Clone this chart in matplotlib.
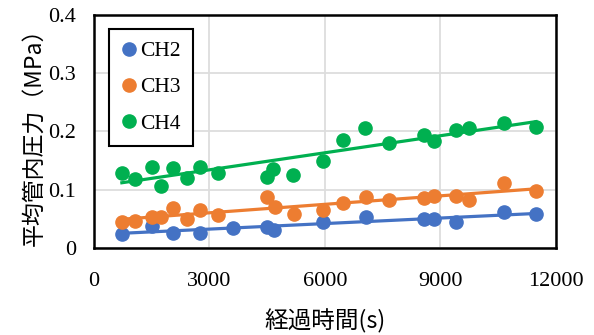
import numpy as np
import matplotlib.pyplot as plt

plt.rcParams['font.family'] = ['Liberation Serif', 'Noto Sans CJK JP']

# 経過時間(s) と 平均管内圧力(MPa)
t_ch2 = [727, 1506, 2052, 2753, 3610, 4493, 4675, 5947, 7064, 8570, 8830, 9401, 10648, 11479]
p_ch2 = [0.024, 0.038, 0.026, 0.026, 0.034, 0.036, 0.031, 0.045, 0.053, 0.050, 0.050, 0.045, 0.062, 0.058]

t_ch3 = [727, 1065, 1506, 1740, 2052, 2415, 2753, 3220, 4493, 4701, 5194, 5947, 6467, 7064,
         7661, 8570, 8830, 9401, 9739, 10648, 11479]
p_ch3 = [0.045, 0.046, 0.053, 0.053, 0.069, 0.050, 0.065, 0.057, 0.088, 0.070, 0.058, 0.065,
         0.077, 0.088, 0.082, 0.086, 0.089, 0.089, 0.082, 0.112, 0.098]

t_ch4 = [727, 1065, 1506, 1740, 2052, 2415, 2753, 3220, 4493, 4649, 5168, 5947, 6467, 7038,
         7661, 8570, 8830, 9401, 9739, 10648, 11479]
p_ch4 = [0.129, 0.118, 0.139, 0.106, 0.137, 0.120, 0.139, 0.129, 0.122, 0.136, 0.125, 0.149,
         0.185, 0.206, 0.180, 0.194, 0.184, 0.203, 0.206, 0.215, 0.208]

series = [("CH2", t_ch2, p_ch2, "#4472C4"),
          ("CH3", t_ch3, p_ch3, "#ED7D31"),
          ("CH4", t_ch4, p_ch4, "#00B050")]

xticks = [0, 3000, 6000, 9000, 12000]
yticks = [0, 0.1, 0.2, 0.3, 0.4]
ytick_labels = ["0", "0.1", "0.2", "0.3", "0.4"]

fig = plt.figure(figsize=(5.94, 3.35), dpi=100)
ax = fig.add_axes([0.158, 0.26, 0.778, 0.695])

for name, t, p, c in series:
    t = np.array(t)
    p = np.array(p)
    # 線形近似
    a, b = np.polyfit(t, p, 1)
    xs = np.array([t.min(), t.max()])
    ax.plot(xs, a*xs+b, '-', color=c, lw=2.3, zorder=2)
    ax.plot(t, p, 'o', color=c, ms=9.5, label=name, zorder=3)

ax.set_xlim(0, 12000)
ax.set_ylim(0, 0.4)
ax.set_xticks(xticks)
ax.set_yticks(yticks)
ax.set_yticklabels(ytick_labels)
ax.tick_params(length=0, labelsize=16)
ax.tick_params(axis='x', pad=17)
ax.tick_params(axis='y', pad=13)
ax.grid(True, color='#dddddd', lw=1.3)
ax.set_axisbelow(True)
for s in ax.spines.values():
    s.set_linewidth(1.8)
    s.set_color('black')

ax.set_xlabel("経過時間(s)", fontsize=17, family=['Noto Sans CJK JP'], labelpad=13)
ax.set_ylabel("平均管内圧力（MPa）", fontsize=16.5, family=['Noto Sans CJK JP'], labelpad=2)

leg = ax.legend(loc='upper left', bbox_to_anchor=(0.01, 0.985), fontsize=15.5,
                handlelength=0.7, handletextpad=0.2, labelspacing=0.75,
                borderpad=0.55, fancybox=False, framealpha=1)
leg.get_frame().set_edgecolor('black')
leg.get_frame().set_linewidth(1.5)

fig.savefig("out.png", dpi=100)
